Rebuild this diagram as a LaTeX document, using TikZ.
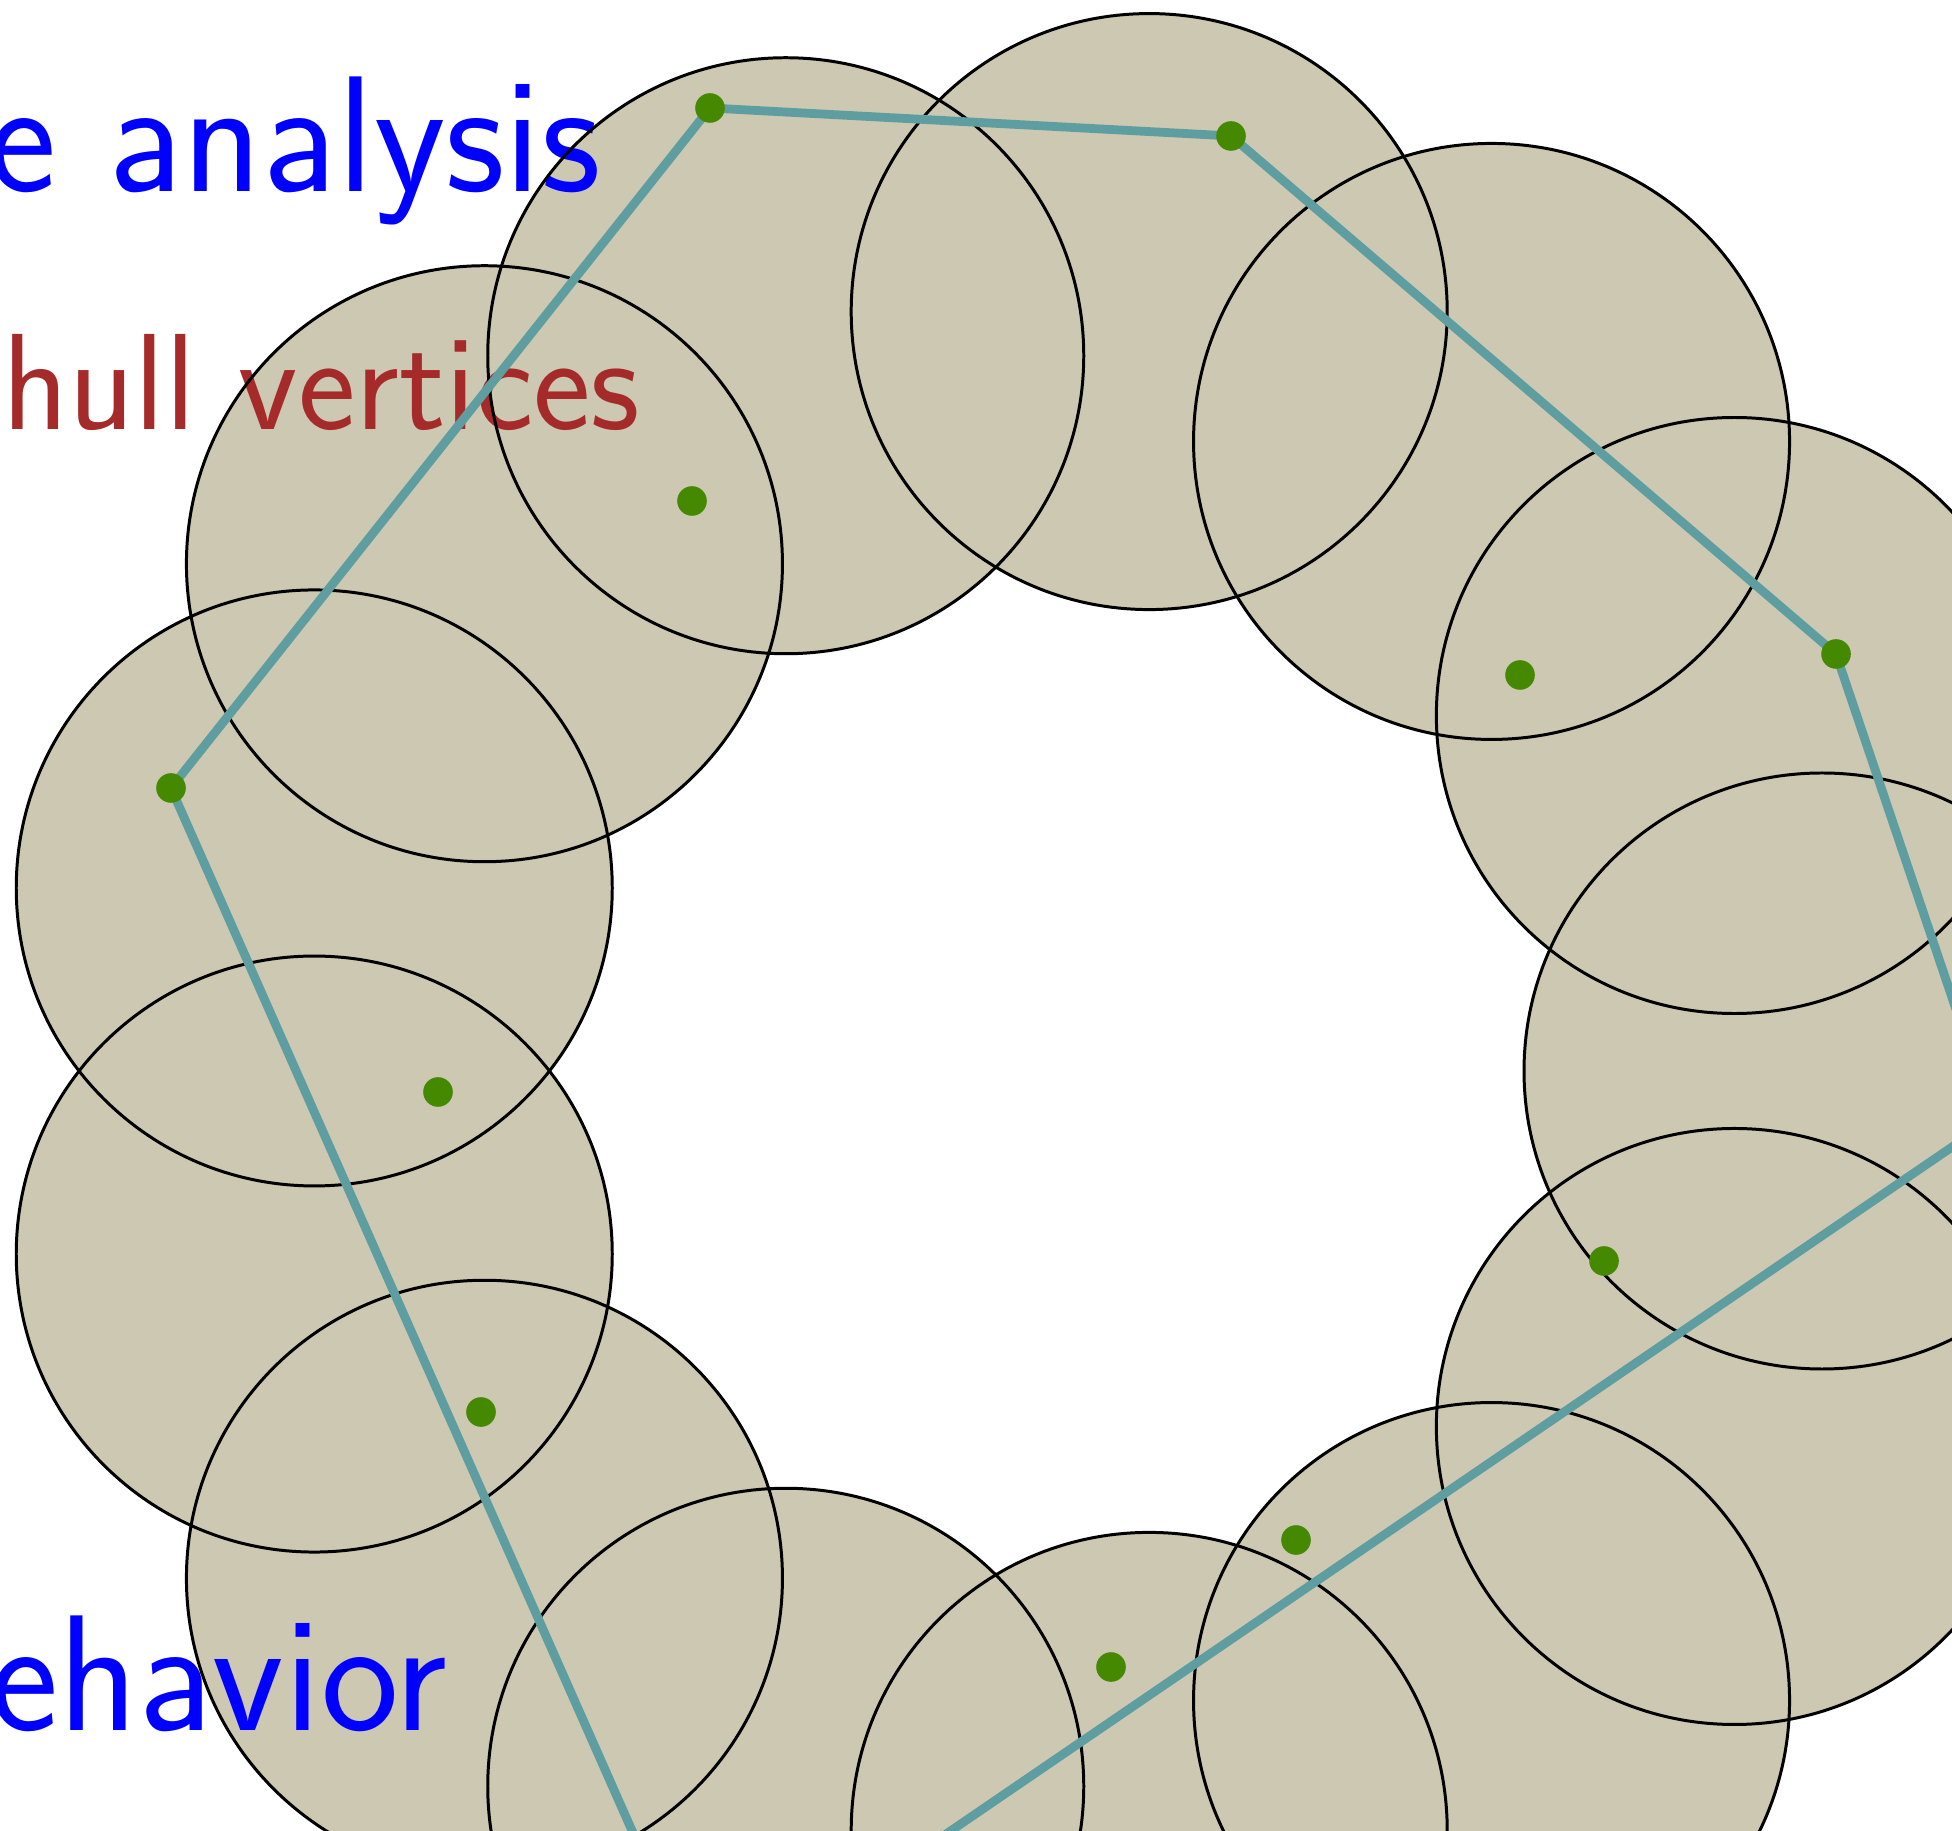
\documentclass[tikz,border=0pt]{standalone}
\definecolor{diskfill}{RGB}{204,200,178}
\definecolor{dotgreen}{RGB}{69,137,0}
\definecolor{hullteal}{RGB}{95,158,160}
\definecolor{labelbrown}{RGB}{165,42,42}
\newcommand{\disks}[1]{\foreach \k in {0,...,12} \path[#1] (10.57,7.59) ++(\k*360/13:7.65) circle (2.98);}
\tikzset{
  biglabel/.style = {anchor=base east, inner sep=0pt, font=\sffamily\fontsize{47}{54}\selectfont},
  dot/.style = {fill=dotgreen}
}

\begin{document}
\begin{tikzpicture}
\useasboundingbox (0,0) rectangle (19.52,18.30);
\disks{fill=diskfill}
\node[biglabel, blue] (worst) at (6.02,16.38) {e analysis};
\node[biglabel, labelbrown, font=\sffamily\fontsize{39}{45}\selectfont] (hull) at (6.41,14.00) {hull vertices};
\node[biglabel, blue] (avg) at (4.48,1.00) {ehavior};
\disks{draw=black, line width=0.85pt}
% sample points
\coordinate (h1) at (7.10,17.22);
\coordinate (h2) at (12.31,16.94);
\coordinate (h3) at (18.36,11.76);
\coordinate (h4) at (19.93,7.11);
\coordinate (h5) at (7.06,-1.68);
\coordinate (h6) at (1.71,10.42);
\coordinate (p1) at (6.92,13.29);
\coordinate (p2) at (15.20,11.55);
\coordinate (p3) at (4.38,7.38);
\coordinate (p4) at (4.81,4.18);
\coordinate (p5) at (16.04,5.69);
\coordinate (p6) at (12.96,2.90);
\coordinate (p7) at (11.11,1.63);
\draw[hullteal, line width=2.5pt, line join=round] (h1) -- (h2) -- (h3) -- (h4) -- (h5) -- (h6) -- cycle;
\foreach \p in {h1,h2,h3,h4,h5,h6,p1,p2,p3,p4,p5,p6,p7}
  \fill[dot] (\p) circle (0.148);
\end{tikzpicture}
\end{document}
